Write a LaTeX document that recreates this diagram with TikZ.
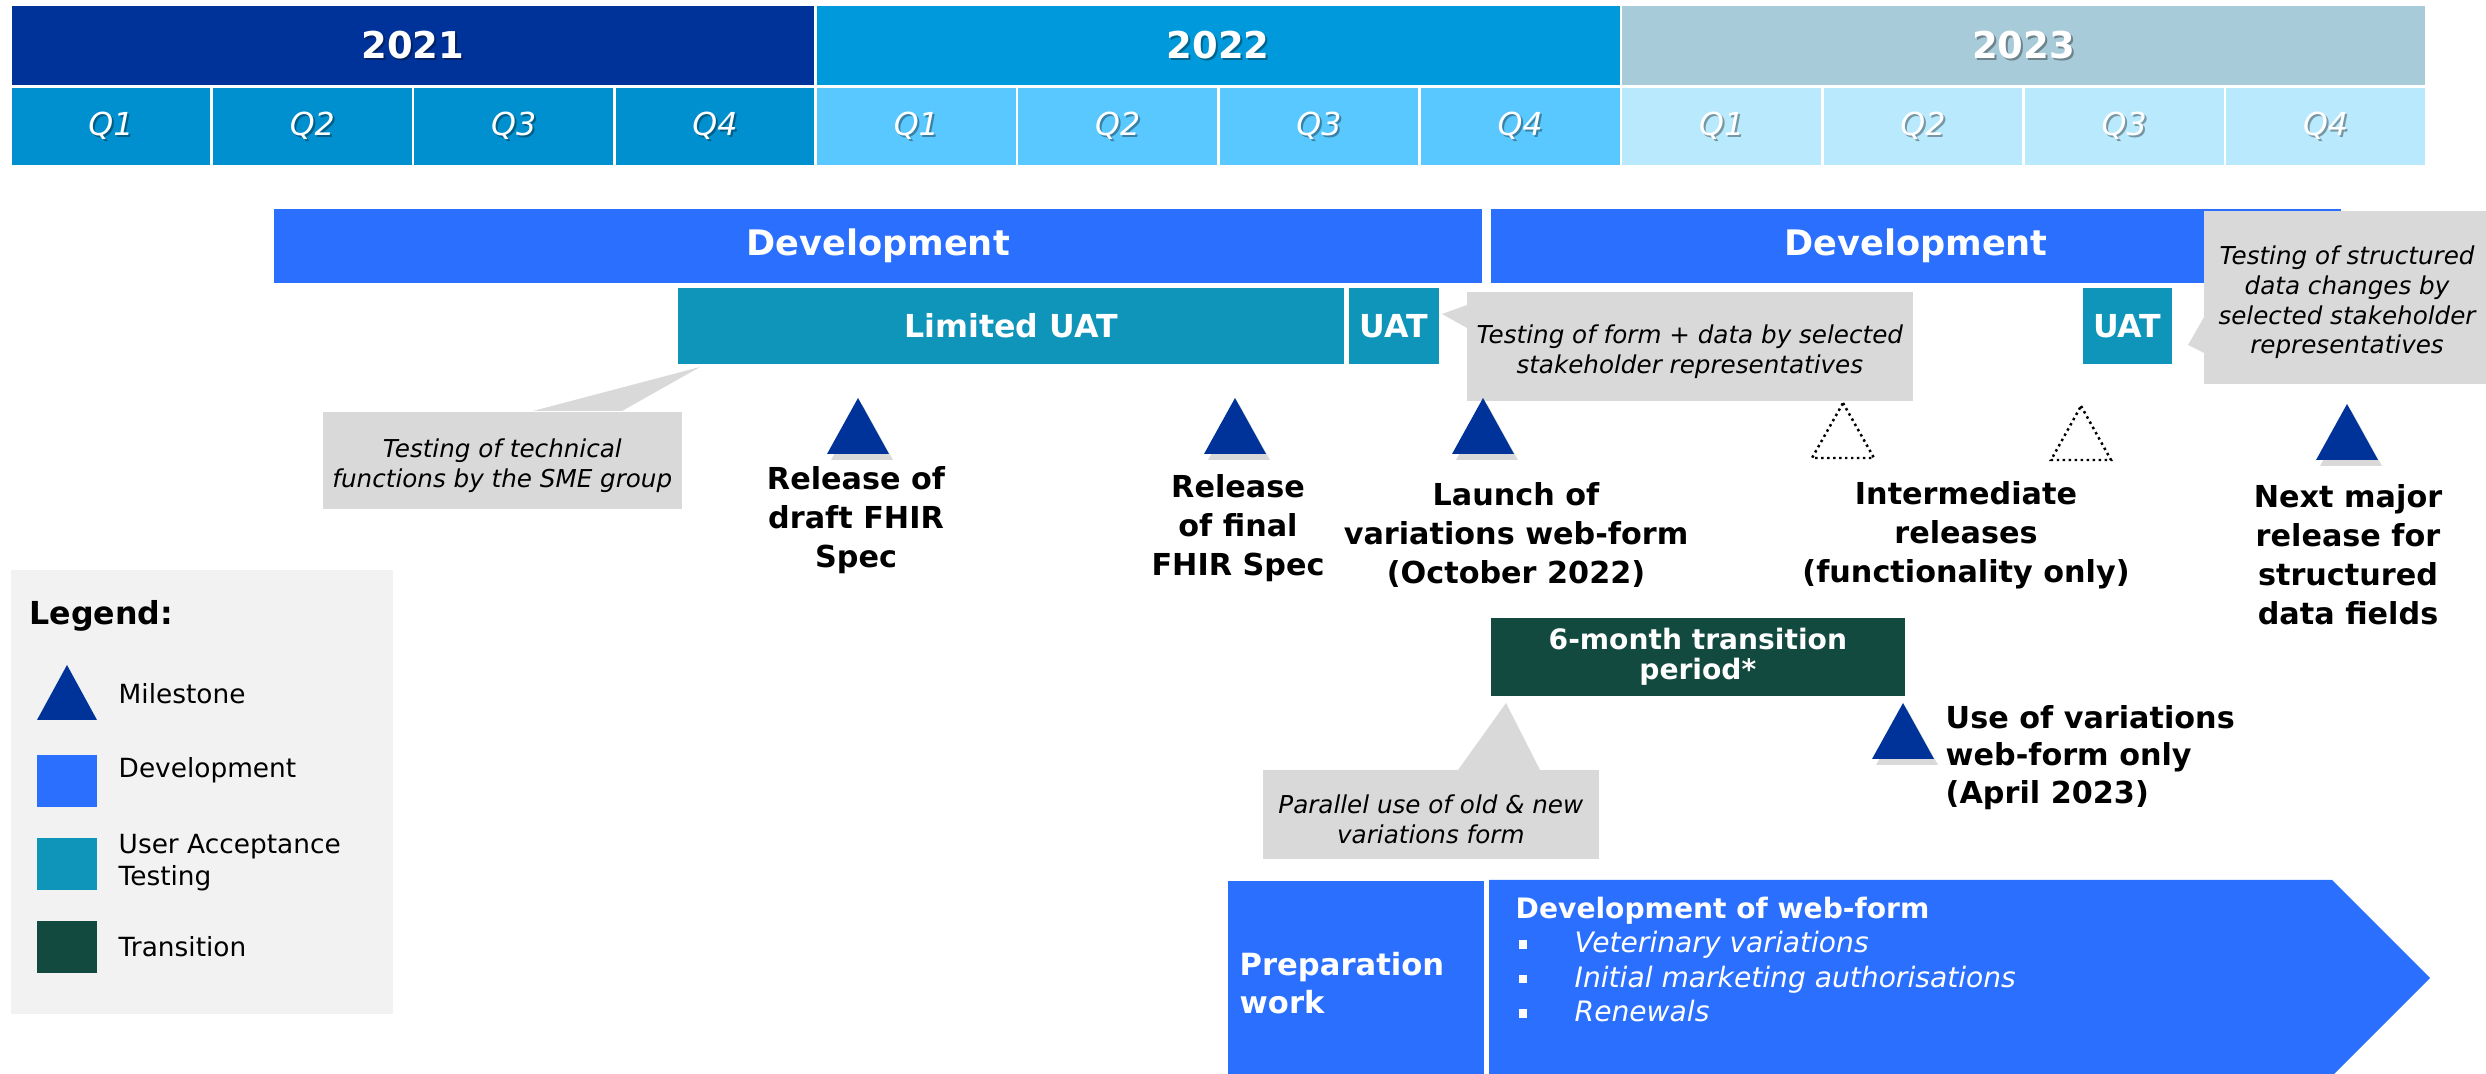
\documentclass[tikz,border=0pt]{standalone}
\usepackage{fontspec}
\setmainfont{DejaVu Sans}[ItalicFont={DejaVu Sans Oblique},BoldItalicFont={DejaVu Sans Bold Oblique}]
\usepackage{tikz}
\usetikzlibrary{calc,positioning}

\definecolor{yrA}{HTML}{003399}
\definecolor{qA}{HTML}{0090CF}
\definecolor{yrB}{HTML}{009ADC}
\definecolor{qB}{HTML}{59C8FF}
\definecolor{yrC}{HTML}{A8CBDA}
\definecolor{qC}{HTML}{B8E9FD}
\definecolor{devblue}{HTML}{2B6FFF}
\definecolor{uatteal}{HTML}{0F94BA}
\definecolor{transgreen}{HTML}{134A40}
\definecolor{callgrey}{HTML}{D9D9D9}
\definecolor{leggrey}{HTML}{F2F2F2}
\definecolor{msblue}{HTML}{003399}

\newcommand{\fs}[2]{\fontsize{#1}{#2}\selectfont}
% milestone triangle: name, x, y of apex, style
\newcommand{\mstone}[4]{%
  \fill[black,opacity=.15] (#2+4,#3+6) -- ++(31,56) -- ++(-62,0) -- cycle;
  \path[#4] (#2,#3) coordinate (#1) -- ++(31,56) -- ++(-62,0) -- cycle;}

\begin{document}
\begin{tikzpicture}[x=0.01cm,y=-0.01cm,
  yearbox/.style={inner sep=0,minimum width=8.02cm,minimum height=0.79cm},
  qbox/.style={inner sep=0,minimum width=1.985cm,minimum height=0.77cm},
  yrtext/.style={inner sep=0,text=white,font=\bfseries\fs{10.5}{12}},
  qtext/.style={inner sep=0,text=white,font=\itshape\fs{9}{11}},
  bar/.style={inner sep=0,anchor=north west,text=white,font=\bfseries\fs{10}{12}},
  uat/.style={bar,fill=uatteal,font=\bfseries\fs{9}{11},minimum height=0.76cm},
  callout/.style={fill=callgrey,inner sep=0,anchor=north west},
  calltext/.style={inner sep=0,align=center,yshift=-1.5pt,font=\itshape\fs{7}{8.4}},
  mslabel/.style={inner sep=0,align=center,anchor=north,font=\bfseries\fs{8.6}{11.1}},
  milestone/.style={fill=msblue},
  interim/.style={draw=black,densely dotted,line width=0.7pt},
  legtext/.style={inner sep=0,anchor=base west,font=\fs{7.5}{8.9}}]
\useasboundingbox (0,0) rectangle (2486,1074);

% years and quarters
\foreach \yr/\yc/\qc [count=\i from 0] in {2021/yrA/qA,2022/yrB/qB,2023/yrC/qC}{
  \pgfmathsetmacro{\xl}{11+805.3*\i}
  \node[yearbox,fill=\yc,anchor=north west] (y\yr) at (\xl,5) {};
  \node[yrtext,text=black,text opacity=.35] (ys\yr) at ($(y\yr.center)+(2,2)$) {\yr};
  \node[yrtext] (yt\yr) at (y\yr.center) {\yr};
  \foreach \q in {1,...,4}{
    \pgfmathsetmacro{\ql}{\xl+201.3*(\q-1)}
    \node[qbox,fill=\qc,anchor=north west] (q\yr\q) at (\ql,87) {};
    \node[qtext,text=black,text opacity=.35] (qs\yr\q) at ($(q\yr\q.center)+(2,2)$) {Q\q};
    \node[qtext] (qt\yr\q) at (q\yr\q.center) {Q\q};
  }
}

% development and UAT bars
\node[bar,fill=devblue,minimum width=12.08cm,minimum height=0.74cm] (devA) at (273,208) {Development};
\node[bar,fill=devblue,minimum width=8.5cm,minimum height=0.74cm] (devB) at (1490,208) {Development};
\node[uat,minimum width=6.66cm] (limuat) at (677,287) {Limited UAT};
\node[uat,minimum width=0.9cm] (uatA) at (1348,287) {UAT};
\node[uat,minimum width=0.89cm] (uatB) at (2082,287) {UAT};

% callouts
\node[callout,minimum width=3.59cm,minimum height=0.97cm] (techcall) at (322,411) {};
\fill[callgrey] (533,411) -- (700,367) -- (622,411) -- cycle;
\node[calltext] (techtxt) at (techcall.center) {Testing of technical\\functions by the SME group};
\node[callout,minimum width=4.46cm,minimum height=1.09cm] (formcall) at (1466,291) {};
\fill[callgrey] (1467,305) -- (1442,314) -- (1467,328) -- cycle;
\node[calltext] (formtxt) at (formcall.center) {Testing of form + data by selected\\stakeholder representatives};
\node[callout,minimum width=2.9cm,minimum height=1.73cm] (structcall) at (2203,210) {};
\fill[callgrey] (2204,317) -- (2188,345) -- (2204,353) -- cycle;
\node[calltext,xshift=-0.5pt] (structtxt) at (structcall.center) {Testing of structured\\data changes by\\selected stakeholder\\representatives};
\node[callout,minimum width=3.36cm,minimum height=0.89cm] (paracall) at (1262,769) {};
\fill[callgrey] (1458,770) -- (1506,703) -- (1540,770) -- cycle;
\node[calltext] (paratxt) at (paracall.center) {Parallel use of old \& new\\variations form};

% milestones
\mstone{msdraft}{858}{398}{milestone}
\mstone{msfinal}{1235}{398}{milestone}
\mstone{mslaunch}{1483}{398}{milestone}
\path[interim] (1843,403) coordinate (msint1) -- ++(31,55) -- ++(-62,0) -- cycle;
\path[interim] (2081,406) coordinate (msint2) -- ++(30,54) -- ++(-60,0) -- cycle;
\mstone{msnext}{2347}{404}{milestone}
\mstone{msuse}{1903}{703}{milestone}

\node[mslabel] (lbldraft) at (856,466) {Release of\\draft FHIR\\Spec};
\node[mslabel] (lblfinal) at (1238,474) {Release\\of final\\FHIR Spec};
\node[mslabel] (lbllaunch) at (1516,482) {Launch of\\variations web-form\\(October 2022)};
\node[mslabel] (lblint) at (1966,481) {Intermediate\\releases\\(functionality only)};
\node[mslabel] (lblnext) at (2348,484) {Next major\\release for\\structured\\data fields};
\node[mslabel,anchor=north west,align=left,font=\bfseries\fs{8.6}{10.6}] (lbluse) at (1945,705) {Use of variations\\web-form only\\(April 2023)};

% transition
\node[inner sep=0,anchor=north west,fill=transgreen,text=white,align=center,
  font=\bfseries\fs{8}{8.8},minimum width=4.14cm,minimum height=0.78cm] (trans) at (1490,617) {6-month transition\\period*};

% preparation and web-form arrow
\node[inner sep=0,anchor=north west,fill=devblue,minimum width=2.56cm,minimum height=2cm] (prep) at (1227,880) {};
\node[inner sep=0,anchor=north west,align=left,text=white,font=\bfseries\fs{8.7}{10.6}] (preptxt) at (1239,952) {Preparation\\work};
\fill[devblue] (1489,880) coordinate (webform) -- (2332,880) -- (2430,978) -- (2332,1076) -- (1489,1076) -- cycle;
\node[inner sep=0,anchor=base west,text=white,font=\bfseries\fs{8}{10}] (webtitle) at (1515,919) {Development of web-form};
\foreach \txt [count=\k] in {Veterinary variations,Initial marketing authorisations,Renewals}{
  \pgfmathsetmacro{\yb}{918+34.5*\k}
  \node[inner sep=0,fill=white,minimum size=0.08cm] (bul\k) at (1523,\yb-8) {};
  \node[inner sep=0,anchor=base west,text=white,font=\itshape\fs{8}{10}] (item\k) at (1574,\yb) {\txt};
}

% legend
\node[inner sep=0,anchor=north west,fill=leggrey,minimum width=3.82cm,minimum height=4.44cm] (legend) at (10,569) {};
\node[inner sep=0,anchor=base west,font=\bfseries\fs{9}{11}] (legtitle) at (29,625) {Legend:};
\fill[milestone] (67,665) coordinate (legms) -- (97,720) -- (37,720) -- cycle;
\node[legtext] (legmstxt) at (118,704) {Milestone};
\node[inner sep=0,anchor=north west,fill=devblue,minimum width=0.6cm,minimum height=0.52cm] (legdev) at (36,754) {};
\node[legtext] (legdevtxt) at (118,778) {Development};
\node[inner sep=0,anchor=north west,fill=uatteal,minimum width=0.6cm,minimum height=0.52cm] (leguat) at (36,837) {};
\node[legtext,anchor=north west,align=left] (leguattxt) at (118,834) {User Acceptance\\Testing};
\node[inner sep=0,anchor=north west,fill=transgreen,minimum width=0.6cm,minimum height=0.52cm] (legtrans) at (36,920) {};
\node[legtext] (legtranstxt) at (118,956) {Transition};
\end{tikzpicture}
\end{document}
